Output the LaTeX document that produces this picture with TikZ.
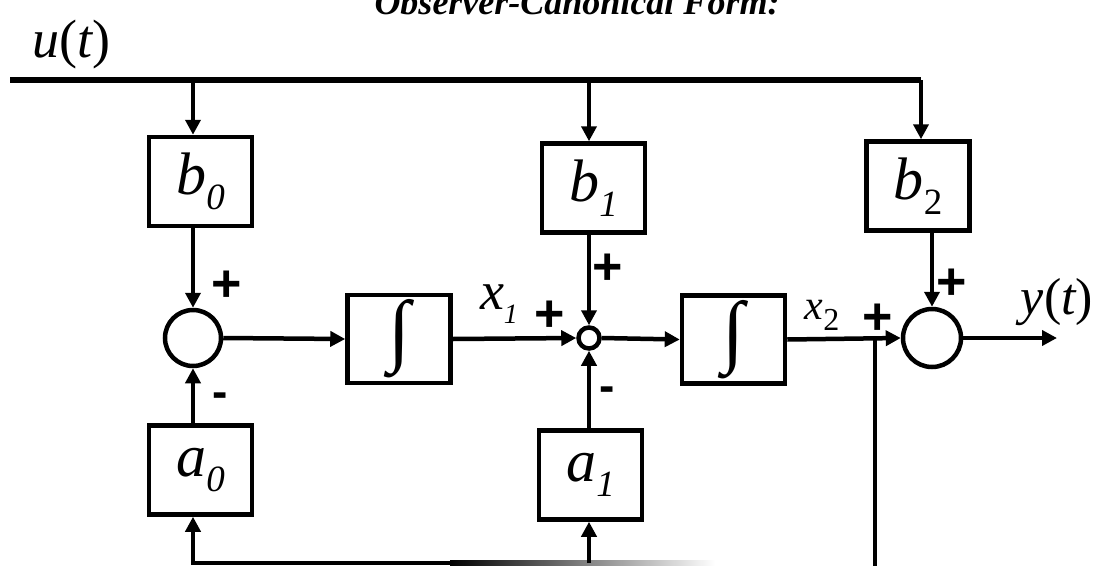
\documentclass[tikz,border=0pt]{standalone}
\usepackage{fontspec}
\setmainfont{Liberation Serif}
\newfontfamily\signfont{Liberation Sans}
\usetikzlibrary{arrows.meta}

% symbol with subscript: #1 size, #2 symbol, #3 sub size, #4 subscript, #5 drop
\newcommand\symsub[5]{{\fontsize{#1}{#1}\selectfont\itshape #2}\raisebox{-#5}{\fontsize{#3}{#3}\selectfont #4}}
\newcommand\gainsym[2]{\symsub{60pt}{#1}{37pt}{#2}{15pt}}
\newcommand\sgn[2]{{\signfont\bfseries\fontsize{#1}{#1}\selectfont #2}}

\begin{document}
\begin{tikzpicture}[x=1pt, y=-1pt, line width=4.5pt,
  >={Triangle[length=15pt,width=15pt]},
  gainbox/.style={draw, minimum width=103pt, minimum height=89pt, inner sep=0pt},
  intbox/.style={draw, minimum width=103pt, minimum height=88pt, inner sep=0pt,
                 font=\fontsize{80pt}{80pt}\selectfont},
  sumbig/.style={draw, circle, minimum size=56pt, inner sep=0pt},
  sumsmall/.style={draw, circle, minimum size=21pt, inner sep=0pt},
  lbl/.style={inner sep=0pt, anchor=center}]

\useasboundingbox (0,0) rectangle (1097,565);

% title and input label
\node[inner sep=0pt, anchor=base] (title) at (577,14)
  {\fontsize{36pt}{36pt}\selectfont\bfseries\itshape Observer-Canonical Form:};
\node[inner sep=0pt, anchor=base west] (ulab) at (30,57)
  {\fontsize{54pt}{54pt}\selectfont\itshape u\upshape(\itshape t\upshape)};

% gain blocks
\node[gainbox] (b0) at (200.5,181.5) {\gainsym{b}{\itshape 0}};
\node[gainbox] (b1) at (593.5,188) {\gainsym{b}{\itshape 1}};
\node[gainbox] (b2) at (918,186) {\gainsym{b}{2}};
\node[gainbox] (a0) at (200.5,470) {\gainsym{a}{\itshape 0}};
\node[gainbox] (a1) at (590.5,475) {\gainsym{a}{\itshape 1}};

% integrators
\node[intbox] (i1) at (399,339) {∫};
\node[intbox] (i2) at (733.5,339.5) {∫};

% summing junctions
\node[sumbig] (s0) at (193,338) {};
\node[sumsmall] (s1) at (589,338) {};
\node[sumbig, minimum size=58pt] (s2) at (932,338) {};

% input bus
\coordinate (bs) at (10,80);
\coordinate (u0) at (193,80);
\coordinate (u1) at (589,80);
\coordinate (u2) at (921,80);
\draw[line width=5.5pt] (bs) -- (u2);
\draw[->] (u0) -- (b0.north -| u0);
\draw[->] (u1) -- (b1.north -| u1);
\draw[->] (u2) -- (b2.north -| u2);

% forward path
\draw[->] (b0.south -| s0) -- (s0.north);
\draw[->] (a0.north -| s0) -- (s0.south);
\draw[->] (s0.east) -- (i1.west);
\draw[->] (i1.east) -- (s1.west);
\draw[->] (b1.south -| s1) -- (s1.north);
\draw[->] (a1.north -| s1) -- (s1.south);
\draw[->] (s1.east) -- (i2.west);
\draw[->] (i2.east) -- (s2.west);
\draw[->] (b2.south -| s2) -- (s2.north);
\coordinate (yout) at (1057,338);
\draw[->] (s2.east) -- (yout);

% feedback of x2
\coordinate (j) at (875,338);
\coordinate (jb) at (875,566);
\draw (j) -- (jb);
\coordinate (fa) at (193,563);
\coordinate (fb) at (589,563);
\coordinate (fs) at (450,563);
\draw[<-, line join=miter] (a0.south -| fa) -- (fa) -- (fs);
\shade[left color=black, right color=white] (450,560.75) rectangle (715,565.25);
\draw[->] (fb) -- (a1.south -| fb);

% signal labels
\node[lbl] (x1) at (499,304) {\symsub{54pt}{x}{28pt}{\itshape 1}{14pt}};
\node[lbl] (x2) at (822,315) {\symsub{42pt}{x}{32pt}{2}{11pt}};
\node[lbl] (ylab) at (1057,302) {\fontsize{52pt}{52pt}\selectfont\itshape y\upshape(\itshape t\upshape)};

% signs
\node[lbl] (p0) at (227,286) {\sgn{52pt}{+}};
\node[lbl] (m0) at (220,400) {\sgn{46pt}{-}};
\node[lbl] (p1a) at (550,316) {\sgn{52pt}{+}};
\node[lbl] (p1b) at (608,269) {\sgn{52pt}{+}};
\node[lbl] (m1) at (607,394) {\sgn{46pt}{-}};
\node[lbl] (p2a) at (878,319) {\sgn{52pt}{+}};
\node[lbl] (p2b) at (952,284) {\sgn{52pt}{+}};
\end{tikzpicture}
\end{document}
